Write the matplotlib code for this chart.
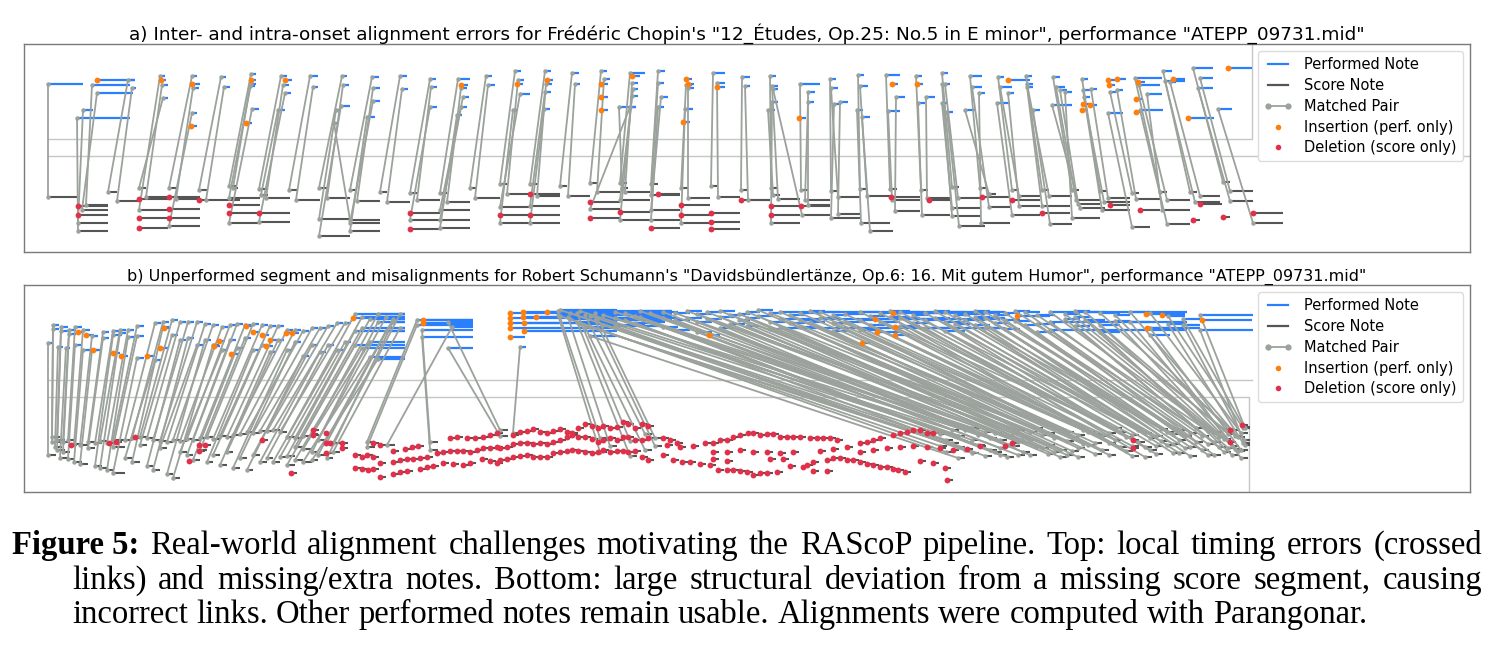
import matplotlib
matplotlib.use("Agg")
import matplotlib.pyplot as plt
from matplotlib.lines import Line2D
from matplotlib.legend_handler import HandlerLine2D
from matplotlib.collections import LineCollection

# ---------------------------------------------------------------- data
# x: onset/offset time (arbitrary time units), y: display pitch
# matched pairs: (perf_on, perf_off, perf_pitch, score_on, score_off, score_pitch)
a_pairs = [
    (4.8, 8.3, 88, 4.8, 7.8, 31.5),
    (9.2, 13.0, 87.5, 8.6, 10.8, 27.5), (9.7, 13.3, 83.5, 8.2, 10.8, 25), (8.3, 9.3, 75, 7.8, 10.8, 18.5),
    (7.7, 13.0, 71, 7.8, 10.8, 14.5), (12.8, 13.5, 90, 10.8, 11.7, 34), (13.2, 13.6, 86, 11.7, 13.9, 29.5),
    (16.0, 16.5, 92, 13.9, 16.8, 25), (16.2, 16.8, 87.5, 14.6, 16.8, 31.5), (16.3, 16.8, 81, 13.9, 14.6, 36),
    (19.2, 19.7, 92, 16.9, 17.8, 36), (19.3, 19.9, 86, 17.6, 20.0, 30.5), (19.2, 19.7, 73.5, 16.9, 20.0, 17),
    (22.1, 22.6, 91.5, 19.9, 20.8, 35), (22.4, 23.0, 86.5, 20.6, 24.0, 30),
    (25.1, 25.6, 93, 22.9, 23.6, 37), (25.1, 25.6, 88, 22.9, 26.0, 31), (25.2, 25.9, 75.5, 22.9, 26.0, 18.5),
    (25.0, 25.5, 87, 23.3, 23.8, 36),
    (28.1, 28.7, 92, 25.9, 26.8, 35.5), (28.3, 28.9, 87.5, 26.6, 29.0, 31), (28.5, 29.1, 83.5, 25.9, 29.0, 19),
    (27.8, 28.5, 75, 26.1, 26.8, 32.5),
    (31.0, 31.8, 92, 28.9, 29.8, 35), (31.3, 31.8, 86.5, 29.6, 32.0, 30),
    (34.2, 34.7, 92, 31.9, 32.8, 36), (34.3, 34.9, 87.5, 32.7, 35.0, 31), (33.6, 34.1, 75, 31.9, 35.0, 20.5),
    (33.4, 33.8, 68.5, 35.0, 38.0, 20), (34.1, 35.0, 77, 31.9, 35.0, 12),
    (37.2, 37.9, 91.5, 35.0, 35.7, 35), (37.3, 38.0, 86, 35.7, 38.0, 29.5), (37.3, 38.0, 79.5, 35.0, 38.0, 18.5),
    (36.7, 37.5, 71.5, 35.0, 38.0, 14.5),
    (40.0, 40.7, 92, 38.0, 38.7, 34), (40.2, 40.8, 85.5, 38.7, 41.0, 29),
    (43.0, 43.6, 90.5, 41.0, 41.7, 33.5), (43.1, 43.7, 86.5, 41.7, 44.0, 30), (43.0, 43.7, 76.5, 41.0, 44.0, 20),
    (45.8, 47.0, 90.5, 44.0, 44.7, 33.5), (46.1, 46.7, 86, 44.7, 47.0, 29), (46.3, 46.9, 81.5, 44.0, 47.0, 25),
    (46.1, 46.7, 76.5, 44.0, 47.0, 20), (45.7, 46.2, 72.5, 44.0, 47.0, 16),
    (48.6, 49.2, 92, 47.0, 47.7, 36), (48.8, 49.5, 87.5, 47.5, 50.0, 31),
    (51.5, 52.1, 94.5, 50.0, 50.7, 38), (51.8, 52.4, 90, 50.7, 53.0, 33), (52.0, 53.0, 83, 50.0, 53.0, 26.5),
    (51.3, 51.8, 75, 50.0, 53.0, 18.5),
    (54.5, 55.1, 94.5, 53.0, 53.7, 38), (54.6, 55.2, 88, 53.7, 56.0, 32), (54.5, 55.1, 84, 53.0, 56.0, 27),
    (54.4, 55.0, 75.5, 53.0, 56.0, 18.5),
    (57.2, 57.9, 93.5, 56.0, 56.7, 37), (57.5, 58.0, 88, 56.8, 59.0, 32),
    (60.1, 60.7, 94.5, 59.0, 59.7, 38.5), (60.4, 61.0, 90.5, 59.7, 62.0, 34), (63.0, 63.6, 76.5, 59.0, 62.0, 25.5),
    (63.0, 64.5, 93.5, 62.0, 62.7, 38.5), (63.2, 63.8, 88.5, 62.5, 65.0, 34), (63.3, 63.8, 85.5, 62.0, 65.0, 30),
    (63.2, 63.8, 82, 62.0, 65.0, 20), (61.9, 63.6, 76.5, 62.2, 62.8, 36),
    (65.8, 66.5, 94.5, 65.1, 65.8, 38), (65.8, 66.4, 88.5, 65.1, 68.0, 32.5), (66.1, 66.8, 81.5, 65.1, 68.0, 25),
    (65.8, 66.4, 76.5, 65.1, 68.0, 20),
    (68.6, 69.2, 87.5, 68.1, 68.8, 36), (68.8, 69.4, 86, 68.8, 71.0, 31), (68.5, 69.3, 75.5, 68.1, 71.0, 18.5),
    (71.3, 72.5, 93.5, 71.1, 71.8, 37), (71.7, 72.5, 88.5, 71.8, 74.0, 31.5),
    (74.2, 75.0, 91.5, 74.1, 74.8, 35), (74.5, 75.0, 87, 74.8, 77.0, 30),
    (77.0, 77.6, 92, 77.1, 77.8, 36), (77.2, 77.8, 87, 77.8, 80.0, 30.5), (77.2, 77.8, 79, 77.1, 80.0, 18.5),
    (76.8, 77.5, 75, 77.3, 78.0, 32.5), (77.3, 77.8, 85.5, 80.2, 83.0, 22.5),
    (80.0, 82.0, 88, 80.1, 80.8, 35), (80.8, 81.5, 84, 80.8, 83.0, 27.5), (80.8, 81.4, 79, 80.5, 83.0, 30),
    (83.0, 83.6, 90.5, 83.1, 83.8, 34.5), (83.1, 83.8, 86, 83.8, 86.0, 31.5), (83.4, 84.0, 78, 83.1, 86.0, 21),
    (84.0, 84.8, 79, 83.8, 86.0, 23),
    (85.8, 86.4, 92.5, 86.0, 86.7, 35.5), (86.0, 86.8, 87, 86.7, 89.0, 32), (85.7, 86.3, 75, 86.1, 89.0, 18.5),
    (86.2, 87.0, 71.5, 87.0, 89.3, 14.5),
    (88.6, 90.0, 92.5, 89.0, 89.7, 35.5), (89.6, 90.5, 81.5, 89.5, 92.0, 24.5), (88.8, 90.0, 74.5, 89.2, 92.0, 30),
    (91.6, 92.2, 92, 92.1, 92.8, 35), (92.6, 93.5, 81.5, 92.7, 95.0, 31), (91.8, 92.5, 78.5, 92.2, 95.0, 22.5),
    (94.2, 94.8, 93.5, 95.2, 95.9, 36.5), (94.5, 95.0, 88, 95.8, 98.0, 31), (94.2, 94.8, 78.5, 95.2, 98.0, 26),
    (94.7, 95.3, 74, 95.9, 98.5, 17), (94.2, 94.7, 88, 95.2, 98.0, 22),
    (97.0, 98.2, 92, 98.0, 98.7, 36), (97.2, 98.2, 86.5, 98.9, 101.0, 26.5), (97.9, 98.5, 83.5, 98.1, 101.0, 18.5),
    (96.5, 97.5, 75, 98.9, 99.6, 33),
    (99.8, 100.4, 91.5, 101.2, 101.9, 35), (100.0, 101.2, 86.5, 101.9, 104.0, 32), (100.8, 101.4, 83.5, 101.9, 104.0, 27),
    (99.7, 101.0, 78.5, 101.2, 104.0, 22.5),
    (102.6, 103.2, 92, 104.2, 104.9, 35), (102.7, 103.3, 88, 104.9, 107.2, 32), (102.7, 103.3, 86.5, 104.2, 107.0, 27),
    (103.3, 104.0, 75, 105.0, 107.2, 18),
    (105.3, 106.0, 91.5, 107.2, 107.9, 35), (105.6, 106.5, 86.5, 107.6, 110.0, 30), (106.5, 107.2, 84, 107.2, 110.0, 21),
    (105.2, 107.2, 77.5, 108.0, 110.5, 26), (106.0, 106.7, 85, 107.8, 110.0, 28),
    (108.2, 108.8, 90.5, 110.0, 110.7, 34.5), (108.3, 109.0, 85, 110.2, 113.0, 25), (109.1, 109.7, 85.5, 110.8, 113.0, 31),
    (108.4, 109.0, 81.5, 110.4, 113.0, 29),
    (111.0, 111.6, 84, 113.2, 113.9, 33.5), (111.7, 112.3, 85, 113.6, 116.0, 30.5), (110.8, 112.3, 73.5, 113.2, 115.0, 16.5),
    (113.5, 116.2, 91, 116.0, 116.7, 34), (113.9, 116.0, 87.5, 116.7, 119.0, 30), (114.7, 116.2, 83, 116.2, 119.0, 25),
    (114.0, 116.3, 75, 116.7, 119.0, 18),
    (116.3, 117.2, 94.5, 119.0, 119.7, 34), (116.5, 118.5, 89.5, 119.5, 122.0, 29), (117.0, 117.6, 89, 120.0, 122.0, 32),
    (119.3, 121.3, 96, 122.3, 123.0, 39), (120.0, 121.3, 91, 123.0, 125.3, 34.5), (119.8, 121.3, 86, 123.0, 125.3, 29.5),
    (121.8, 123.2, 75.5, 125.3, 128.3, 18.5),
]
# insertions (performed only): (on, off, pitch)
a_ins = [
    (9.7, 13.5, 90), (16.1, 16.6, 90), (19.2, 20.0, 88), (19.1, 19.7, 67), (25.1, 25.6, 90), (24.6, 25.2, 68.5),
    (28.5, 29.2, 90), (46.1, 46.8, 87.5), (51.7, 52.3, 88), (54.7, 55.3, 90), (60.1, 60.8, 88), (60.1, 60.8, 81.5),
    (60.1, 60.8, 75), (63.2, 64.0, 92), (68.6, 69.2, 90.5), (68.8, 69.4, 88), (68.3, 69.0, 69), (71.7, 72.5, 86.5),
    (79.9, 80.6, 71), (89.2, 89.8, 88), (91.7, 92.3, 88), (100.8, 103.0, 90), (108.3, 109.0, 78), (109.0, 109.7, 77.5),
    (108.2, 108.8, 75), (110.8, 111.5, 90), (111.7, 112.6, 90.5), (110.9, 111.5, 87.5), (113.8, 114.5, 89),
    (113.6, 114.2, 80.5), (113.6, 114.2, 74), (117.3, 118.5, 90.5), (118.8, 121.4, 71), (122.8, 125.2, 96),
]
# deletions (score only): (on, off, pitch)
a_del = [
    (7.8, 10.8, 27), (7.8, 10.8, 22.5), (13.9, 16.8, 30.5), (13.9, 16.8, 21), (13.9, 16.8, 16), (16.9, 20.0, 31.5),
    (16.9, 20.0, 25.5), (16.9, 20.0, 21), (19.9, 20.5, 30), (22.9, 26.0, 27.5), (22.9, 26.0, 23.5), (25.9, 29.0, 23.5),
    (41.0, 44.0, 23.5), (41.0, 44.0, 15.5), (50.0, 53.0, 22.5), (53.0, 56.0, 33), (53.0, 56.0, 22.5), (59.0, 62.0, 29),
    (59.0, 62.0, 21), (62.0, 65.0, 24), (65.8, 68.0, 33), (65.1, 68.0, 16), (68.1, 71.0, 27.5), (68.1, 71.0, 22.5),
    (71.1, 74.0, 23.5), (71.1, 74.0, 19), (71.1, 74.0, 15.5), (74.1, 77.0, 30), (77.1, 80.0, 27), (77.1, 80.0, 22.5),
    (80.1, 83.0, 27), (89.1, 92.0, 31.5), (92.9, 95.0, 30), (98.2, 101.0, 31.5), (101.2, 104.0, 30),
    (104.2, 107.0, 23.5), (111.0, 113.0, 27.5), (114.0, 116.0, 25), (120.0, 122.2, 28), (119.3, 120.0, 20),
    (122.3, 123.0, 21.5), (125.3, 128.3, 23.5),
]

# panel b: matched chords (perf_on, perf_off, perf_pitches, score_on, score_off, score_pitches)
b_chords = [
    (4.8, 5.2, [78.5], 4.8, 5.6, [22.5]), (5.3, 5.9, [87.5, 85.5], 5.2, 6.0, [31.5, 29]),
    (5.8, 6.3, [76.5], 5.5, 6.2, [26.5]), (6.1, 6.8, [86.5, 84.5], 5.7, 6.5, [30, 25]),
    (6.6, 7.0, [76], 6.0, 6.8, [21]), (6.9, 7.6, [85, 83], 6.3, 7.0, [29, 24]),
    (7.5, 8.2, [86.5, 77.5], 6.8, 7.5, [30, 20.5]), (8.3, 9.0, [75, 85], 7.4, 8.2, [19, 28]),
    (9.2, 9.8, [75, 82], 8.0, 8.8, [18, 27.5]), (10.3, 10.9, [84, 81], 8.8, 9.5, [29, 26]),
    (11.3, 12.2, [84.5, 82.5], 9.5, 10.2, [28.5, 17]), (12.0, 12.6, [85, 83.5], 10.0, 10.7, [29.5, 16]),
    (12.8, 13.4, [85, 81.5], 10.7, 11.3, [28.5, 15]), (13.7, 14.4, [87, 82, 71], 11.3, 12.5, [30, 26.5, 13.5]),
    (15.5, 16.1, [88.5, 70], 12.5, 13.2, [30, 21]), (16.3, 16.9, [89, 86.5], 13.2, 14.0, [31, 19]),
    (17.2, 17.8, [90, 82.5], 14.0, 14.7, [31.5, 27.5]), (18.0, 18.6, [89, 80], 14.7, 15.3, [31, 17]),
    (18.8, 19.4, [89, 81], 15.3, 16.0, [30, 15]), (19.7, 20.3, [89, 77.5], 16.0, 16.7, [29.5, 26]),
    (20.5, 21.1, [88, 80], 16.7, 17.3, [29, 13]), (21.3, 21.9, [87.5, 77.5], 17.3, 18.0, [30, 11]),
    (22.2, 22.8, [86.5, 75], 18.0, 18.7, [29.5, 24]), (23.0, 23.6, [87.5, 80], 18.7, 19.3, [30.5, 22.5]),
    (23.7, 24.3, [88, 76], 19.3, 20.0, [30, 20]), (24.5, 25.1, [87.5, 81], 20.0, 20.7, [31, 25]),
    (25.3, 25.9, [88, 75], 20.7, 21.3, [31.5, 19]), (26.2, 26.8, [87.5, 77.5], 21.3, 22.0, [30.5, 22.5]),
    (27.0, 27.6, [87, 74], 22.0, 22.7, [32, 17.5]), (27.8, 28.4, [87, 80], 22.7, 23.3, [31.5, 24]),
    (28.7, 29.3, [85, 75], 23.3, 24.0, [32.5, 16]), (29.5, 30.1, [85, 79], 24.0, 24.7, [33, 21]),
    (30.3, 30.9, [84.5, 72], 24.7, 25.3, [34, 15]), (31.2, 31.8, [86, 77.5], 25.3, 26.0, [33.5, 22.5]),
    (32.0, 32.6, [86, 74], 26.0, 26.7, [34.5, 19]), (32.8, 33.4, [87, 77.5], 26.7, 27.3, [34.5, 21]),
    (33.7, 34.3, [88.5, 75], 27.3, 28.0, [35, 19]), (34.5, 35.1, [88.5, 79], 28.0, 28.7, [34, 21.5]),
    (35.5, 40.5, [93, 84.5, 77.5], 28.7, 29.5, [31.5, 22, 17.5]), (36.2, 40.5, [91.5, 86, 76], 29.5, 30.3, [31, 26.5, 20]),
    (37.0, 40.5, [90.5, 79, 71.5], 30.3, 31.2, [32, 25.5, 19]), (37.8, 40.5, [93, 89, 70.5], 31.2, 31.8, [33, 24, 20]),
    (38.6, 40.5, [91.5, 84.5], 31.8, 32.7, [30, 22.5]), (39.3, 40.5, [90.5, 89], 32.7, 33.3, [29, 21]),
    (40.0, 40.5, [93, 86], 33.3, 34.0, [28.5, 24]),
    (41.7, 47.3, [90, 87.5], 36.7, 37.5, [29, 26.5]), (42.2, 47.3, [85, 81.5], 43.0, 43.8, [29, 25]),
    (44.8, 47.3, [89, 76], 50.0, 50.8, [35, 32]), (45.2, 47.3, [86.5], 38.7, 39.5, [27.5]),
    (52.0, 52.6, [76.5], 51.3, 52.0, [33.5]), (55.8, 67.2, [94.5, 92.5], 60.0, 60.7, [31, 24]),
    (56.8, 61.7, [91.5], 61.0, 61.7, [27]), (57.7, 61.7, [93.5, 89], 63.0, 63.7, [29.5, 22]),
    (58.5, 61.7, [92.5, 86.5], 64.5, 65.2, [33, 25]), (59.5, 67.2, [93.5, 90], 65.5, 66.2, [31, 27]),
    # links from the performed segment to the far (wrong) end of the score
    (56.0, 61.7, [95, 92], 94.0, 94.7, [33, 27]), (57.0, 61.7, [93.5, 90.5], 94.6, 95.3, [30, 24]),
    (58.0, 61.7, [94.5, 88], 95.2, 95.9, [35, 28.5]), (59.0, 61.7, [92, 86.5, 82], 95.8, 96.5, [32, 26.5, 21]),
    (60.3, 64.5, [92.5, 87.5], 96.5, 97.2, [35, 25]), (61.5, 66.0, [94, 91, 87], 97.2, 97.9, [36, 30, 23.5]),
    (62.5, 64.0, [93.5, 90], 97.8, 98.5, [32.5, 27.5]), (63.5, 65.0, [92, 88.5], 98.5, 99.2, [34, 22]),
    (64.0, 67.2, [94.5, 91.5], 99.0, 99.7, [31, 25]), (65.0, 66.5, [93.5, 89], 99.5, 100.2, [33.5, 24]),
    (66.3, 67.8, [94, 91, 86.5], 100.0, 100.7, [30, 26, 22.5]), (67.5, 69.0, [93.5, 90, 85], 100.7, 101.4, [32, 27.5, 21.5]),
    (68.7, 70.2, [94.5, 91], 101.3, 102.0, [33.5, 27]), (69.7, 71.2, [93, 89, 84], 101.8, 102.5, [35, 29, 22.5]),
    (70.7, 72.2, [94, 90.5], 102.3, 103.0, [31.5, 24]), (72.0, 73.5, [94.5, 91.5, 86], 103.0, 103.7, [34, 30, 22.5]),
    (73.0, 74.5, [92.5, 88], 103.6, 104.3, [36, 26.5]), (73.9, 75.0, [93, 90], 104.2, 104.9, [32.5, 26]),
    (74.7, 76.0, [94, 91, 87], 104.8, 105.5, [33.5, 27.5, 23]), (75.8, 77.3, [95, 92], 105.4, 106.1, [31, 24]),
    (77.0, 78.5, [93.5, 89, 85.5], 106.0, 106.7, [35, 25, 21.5]), (78.0, 100.0, [94, 90.5, 86], 106.7, 107.4, [34, 29.5, 22.5]),
    (79.0, 80.5, [92.5, 88.5], 107.2, 107.9, [31.5, 24.5]), (80.0, 82.0, [93.5, 90, 86.5], 107.8, 108.5, [32.5, 26, 21.5]),
    (81.0, 82.5, [94.5, 89], 108.3, 109.0, [35, 28]), (82.0, 84.0, [94, 91], 108.8, 109.5, [34, 27.5]),
    (83.3, 85.0, [92.5, 88.5, 84.5], 109.5, 110.2, [33, 28.5, 23]), (84.5, 86.5, [93, 89], 110.2, 110.9, [32, 25]),
    (86.0, 88.0, [94, 90, 85], 110.9, 111.6, [33.5, 28.5, 22.5]), (87.0, 88.5, [92, 87.5], 111.5, 112.2, [36, 30]),
    (88.0, 90.0, [93.5, 89], 112.0, 112.7, [34, 26.5]), (89.0, 91.0, [94.5, 91.5], 112.6, 113.3, [31.5, 24.5]),
    (90.0, 92.0, [94, 91, 87], 113.2, 113.9, [32.5, 27, 22]), (91.3, 93.0, [92.5, 88.5], 113.8, 114.5, [35, 29]),
    (92.5, 94.5, [93.5, 90, 86], 114.5, 115.2, [33.5, 26.5, 21.5]), (93.5, 95.0, [94.5, 91], 115.0, 115.7, [31, 25]),
    (94.5, 96.5, [94, 89, 84.5], 115.6, 116.3, [32, 27, 23]), (95.5, 97.0, [92.5, 88], 116.1, 116.8, [35.5, 29.5]),
    (96.5, 98.5, [93, 90], 116.7, 117.4, [34, 27.5]), (97.5, 99.0, [94.5, 91.5, 87.5], 117.3, 118.0, [33, 28, 23.5]),
    (98.5, 100.5, [94, 91, 86], 117.9, 118.6, [35, 30, 23.5]), (99.5, 101.0, [92.5, 88.5], 118.5, 119.2, [32, 26]),
    (100.5, 102.0, [93.5, 90, 85.5], 119.0, 119.7, [33.5, 26.5, 22]), (101.5, 103.0, [94.5, 89.5], 119.6, 120.3, [36, 29]),
    (102.5, 104.0, [94, 87.5], 120.2, 120.9, [32, 25]), (103.7, 105.5, [92.5, 88, 84], 120.8, 121.5, [34.5, 28, 22.5]),
    (105.0, 118.7, [94, 89, 85], 121.4, 122.1, [34, 29, 22.5]), (106.5, 108.0, [93, 90.5], 121.9, 122.6, [31.5, 26.5]),
    (107.5, 109.0, [94.5, 91.5, 87], 122.4, 123.1, [35.5, 30.5, 24]), (108.5, 110.5, [94, 90], 122.8, 123.5, [33, 26]),
    (110.0, 112.0, [93.5, 87.5, 84], 123.2, 123.9, [35, 27, 22.5]), (111.5, 113.0, [92.5, 89.5], 123.5, 124.2, [32, 25.5]),
    (113.0, 115.0, [94, 89], 123.8, 124.5, [31.5, 24.5]), (115.0, 117.0, [93.5, 86, 82.5], 124.1, 124.8, [33.5, 25, 21]),
    (116.8, 118.5, [92, 88], 124.3, 125.0, [36, 28.5]), (118.3, 120.0, [90.5, 87.5], 124.4, 125.0, [36.5, 30]),
    (120.0, 125.3, [92.5, 85], 124.5, 125.0, [36, 27.5]),
]
b_ins = [
    (7.8, 8.4, 84), (8.6, 9.4, 82.5), (9.3, 10.0, 75), (11.3, 12.0, 73.5), (12.1, 12.8, 72), (14.7, 15.5, 72),
    (16.0, 16.8, 76), (16.4, 17.0, 86), (21.4, 22.0, 77), (21.9, 22.5, 79.5), (23.1, 23.8, 73), (24.6, 25.2, 87),
    (25.3, 26.0, 84), (26.2, 26.9, 82.5), (26.6, 27.3, 77), (27.0, 27.7, 80), (28.6, 29.3, 83.5), (29.2, 29.9, 83.5),
    (35.3, 40.5, 91), (42.3, 47.3, 90), (42.3, 47.3, 88.5),
    (51.0, 61.7, 93.5), (51.0, 61.7, 91), (51.0, 61.7, 88.5), (51.0, 61.7, 86), (51.0, 52.5, 81.5),
    (52.3, 67.2, 94), (52.3, 61.7, 91.5), (52.4, 61.7, 88.5), (52.4, 61.7, 84.5), (53.6, 61.7, 91.5), (54.7, 61.7, 94),
    (70.9, 72.0, 82.5), (86.2, 87.0, 78.5), (87.5, 95.0, 90.5), (87.7, 90.0, 84), (89.3, 100.0, 93.5),
    (89.5, 92.0, 86.5), (89.5, 91.0, 82.5), (101.7, 105.0, 92), (114.6, 118.5, 93), (116.2, 118.5, 92.5),
    (114.7, 120.0, 86), (120.2, 125.2, 90),
]
# deletions in panel b: (onset, pitch); every deleted note has the same short value
b_del_len = 0.6
b_del = [
    (7.1, 27.5), (10.9, 28.5), (11.6, 29), (13.5, 31.5), (19.9, 27.5), (20.5, 27.5), (19.9, 24.5), (18.9, 19.5),
    (26.2, 30), (29.1, 13.5), (33.0, 28.5), (32.6, 23.5),
    (31.3, 35), (31.3, 32.5), (32.6, 33.5), (37.3, 28.5), (38.0, 27.5), (39.3, 24.5), (40.5, 25.5), (41.2, 26.5),
    (41.8, 27), (45.0, 31), (45.7, 31.5), (46.7, 31), (47.5, 31), (48.3, 31.5), (49.0, 32.5), (49.7, 33.5),
    (51.3, 32.5), (52.0, 34), (52.7, 34.5), (53.3, 35.5), (54.0, 34), (54.7, 33.5), (55.3, 34.5), (56.0, 35.5),
    (56.7, 34), (57.2, 33.5), (57.8, 36), (58.5, 38), (59.2, 37), (59.8, 36), (60.3, 37), (61.0, 36), (61.7, 36.5),
    (62.3, 39), (62.8, 38), (63.5, 36), (64.2, 38), (64.8, 37),
    (66.3, 31), (67.0, 30), (67.7, 28.5), (70.5, 28.5), (71.3, 28.5), (72.0, 30), (72.7, 30), (73.3, 31.5),
    (74.0, 32.5), (74.8, 33.5), (75.3, 33.5), (76.0, 32.5), (76.7, 33), (77.3, 33), (78.0, 31.5), (78.7, 31.5),
    (79.3, 31.5), (80.0, 31.5), (81.0, 31), (81.7, 31), (82.3, 31), (83.0, 31), (83.7, 30), (86.0, 28.5), (86.7, 29),
    (87.3, 30), (88.0, 31), (89.3, 32.5), (90.0, 33.5), (90.7, 34), (91.3, 35), (92.0, 35), (92.7, 33.5), (93.3, 33.5),
    (32.6, 28.5), (34.2, 28.5), (34.2, 26), (50.0, 26), (50.7, 26.5), (51.3, 28), (52.0, 28.5), (52.7, 28.5),
    (53.3, 28), (54.0, 28.5), (54.7, 28), (55.3, 29), (56.0, 30), (56.7, 31.5), (57.2, 32.5), (57.8, 31.5),
    (58.5, 31.5), (59.2, 30.5), (59.8, 29), (60.3, 30), (61.0, 31), (61.7, 30), (62.3, 31.5), (62.8, 31.5),
    (63.5, 30), (64.2, 30), (64.8, 31),
    (35.5, 22.5), (36.2, 21.5), (36.7, 22.5), (37.3, 21.5), (38.0, 18.5), (39.3, 19), (40.0, 20), (40.7, 20.5),
    (41.3, 20.5), (42.0, 21), (42.7, 21.5), (43.7, 23.5), (44.3, 24), (45.0, 24.5), (45.7, 24.5), (46.3, 24.5),
    (47.0, 24), (47.7, 25), (48.3, 26), (49.0, 26), (49.7, 26.5), (50.0, 20), (50.7, 20.5), (51.3, 21.5), (52.0, 22),
    (52.7, 22.5), (53.3, 21.5), (54.0, 21.5), (54.7, 21.5), (55.3, 23.5), (56.0, 24), (56.7, 24.5), (57.2, 25),
    (57.8, 24.5), (58.5, 24), (59.2, 23.5), (59.8, 24), (60.3, 25), (61.0, 24), (61.7, 24.5), (62.3, 24.5),
    (62.8, 24), (63.5, 24.5), (64.2, 21.5), (64.8, 20),
    (35.5, 16), (36.2, 15.5), (36.8, 15), (37.3, 15.5), (38.0, 11.5), (39.3, 13), (40.0, 14), (40.7, 14.5),
    (42.0, 15.5), (42.7, 16.5), (43.3, 17), (44.3, 18.5), (45.3, 18), (46.3, 17.5), (47.0, 18.5), (48.2, 20.5),
    (49.0, 19.5), (49.7, 18.5), (66.3, 22.5), (67.3, 20), (68.2, 19), (69.0, 19), (70.0, 18), (71.0, 17.5),
    (71.8, 15), (72.7, 15), (73.3, 15), (74.0, 14.5), (74.7, 14), (75.3, 12.5), (76.0, 13.5), (76.7, 13.5),
    (77.7, 14), (80.7, 17.5), (81.3, 19), (82.7, 20), (83.3, 21), (84.0, 21), (84.7, 20), (85.3, 20), (86.0, 19),
    (86.7, 18), (87.3, 17.5), (88.0, 16.5), (88.7, 16.5), (89.3, 15.5), (89.8, 15), (90.5, 14),
    (66.7, 27.5), (68.0, 26.5), (69.3, 27), (71.3, 24), (72.7, 24), (74.0, 25), (75.3, 24), (76.7, 24), (78.0, 23.5),
    (79.3, 24), (82.0, 24.5), (83.3, 25.5), (84.7, 26.5), (86.0, 24), (87.3, 25), (88.7, 26), (90.0, 26.5),
    (91.3, 27), (92.7, 26.5), (94.0, 26), (95.3, 25), (96.7, 25.5), (98.0, 27),
    (77.0, 20.5), (78.3, 20.5), (79.0, 17), (80.3, 16.5), (94.7, 10), (71.3, 20.5), (72.7, 19.5), (81.3, 14.5),
    (82.7, 14.5), (92.0, 19.5), (93.3, 18.5), (94.5, 16),
    (113.3, 30), (113.3, 26), (123.0, 35), (123.0, 29), (124.2, 37.5), (100.5, 27), (101.2, 28.5),
]

titles = [
    'a) Inter- and intra-onset alignment errors for Frédéric Chopin\'s "12_Études, Op.25: No.5 in E minor", '
    'performance "ATEPP_09731.mid"',
    'b) Unperformed segment and misalignments for Robert Schumann\'s "Davidsbündlertänze, Op.6: 16. Mit gutem '
    'Humor", performance "ATEPP_09731.mid"',
]
legend_labels = ["Performed Note", "Score Note", "Matched Pair", "Insertion (perf. only)", "Deletion (score only)"]
caption_lines = [
    ("Figure 5:", "Real-world alignment challenges motivating the RAScoP pipeline.  Top: local timing errors (crossed"),
    ("", "links) and missing/extra notes.  Bottom: large structural deviation from a missing score segment, causing"),
    ("", "incorrect links. Other performed notes remain usable. Alignments were computed with Parangonar."),
]

# ---------------------------------------------------------------- style
PERF_C = "#2a7fff"
SCORE_C = "#555555"
LINK_C = "#9ba19b"
INS_C = "#ff7f0e"
DEL_C = "#e0304a"
GUIDE_C = "#c6c6c6"
FRAME_C = "#7a7a7a"
SERIF = ["Liberation Serif", "DejaVu Serif"]

W, H = 1494, 650
fig = plt.figure(figsize=(W / 100, H / 100), dpi=100)
renderer = fig.canvas.get_renderer()


def draw_panel(ax, pairs, ins, dels):
    score_segs = [[(so, sy), (sf, sy)] for (po, pf, py, so, sf, sy) in pairs]
    score_segs += [[(o, y), (f, y)] for (o, f, y) in dels]
    perf_segs = [[(po, py), (pf, py)] for (po, pf, py, so, sf, sy) in pairs]
    perf_segs += [[(o, y), (f, y)] for (o, f, y) in ins]
    links = [[(so, sy), (po, py)] for (po, pf, py, so, sf, sy) in pairs]
    ax.add_collection(LineCollection(score_segs, colors=SCORE_C, linewidths=1.5, zorder=2))
    ax.add_collection(LineCollection(perf_segs, colors=PERF_C, linewidths=1.6, zorder=2))
    ax.add_collection(LineCollection(links, colors=LINK_C, linewidths=1.3, zorder=3))
    px = [p[0] for p in pairs] + [p[3] for p in pairs]
    py_ = [p[2] for p in pairs] + [p[5] for p in pairs]
    ax.plot(px, py_, "o", color=LINK_C, ms=3.2, mew=0, zorder=4)
    ax.plot([i[0] for i in ins], [i[2] for i in ins], "o", color=INS_C, ms=4.2, mew=0, zorder=5)
    ax.plot([d[0] for d in dels], [d[2] for d in dels], "o", color=DEL_C, ms=4.2, mew=0, zorder=5)


def style_axes(ax, title, ylim):
    ax.set_xlim(2.4, 147.0)
    ax.set_ylim(*ylim)
    ax.set_xticks([])
    ax.set_yticks([])
    for s in ax.spines.values():
        s.set_color(FRAME_C)
        s.set_linewidth(1.0)
    t = ax.set_title(title, fontsize=12, pad=3)
    w = t.get_window_extent(renderer).width
    t.set_fontsize(12 * 1231 / w)
    h_perf = Line2D([], [], color=PERF_C, lw=1.6)
    h_score = Line2D([], [], color=SCORE_C, lw=1.6)
    h_pair = Line2D([], [], color=LINK_C, lw=1.3, marker="o", ms=4.5, mew=0)
    h_ins = Line2D([], [], ls="none", marker="o", color=INS_C, ms=4, mew=0)
    h_del = Line2D([], [], ls="none", marker="o", color=DEL_C, ms=4, mew=0)
    leg = ax.legend([h_perf, h_score, h_pair, h_ins, h_del], legend_labels, loc="upper right",
                    fontsize=10.5, numpoints=2, labelspacing=0.4, framealpha=1, edgecolor="#dcdcdc",
                    handler_map={h_ins: HandlerLine2D(numpoints=1), h_del: HandlerLine2D(numpoints=1)})
    leg.set_zorder(10)


# panel a
ax_a = fig.add_axes([24 / W, 1 - 252 / H, 1446 / W, 208 / H])
ax_a.plot([4.8, 125.2, 125.2], [60.5, 60.5, 108], color=GUIDE_C, lw=1.0, zorder=1)
ax_a.plot([4.8, 147.0], [52, 52], color=GUIDE_C, lw=1.0, zorder=1)
draw_panel(ax_a, a_pairs, a_ins, a_del)
style_axes(ax_a, titles[0], (4, 108))

# panel b
b_pairs = []
for (po, pf, pys, so, sf, sys_) in b_chords:
    for py, sy in zip(pys, sys_):
        b_pairs.append((po, pf, py, so, sf, sy))
b_dels = [(o, o + b_del_len, y) for (o, y) in b_del]
ax_b = fig.add_axes([24 / W, 1 - 492 / H, 1446 / W, 207 / H])
ax_b.plot([4.8, 125.2], [60, 60], color=GUIDE_C, lw=1.0, zorder=1)
ax_b.plot([4.8, 124.9, 124.9], [51.5, 51.5, 4], color=GUIDE_C, lw=1.0, zorder=1)
draw_panel(ax_b, b_pairs, b_ins, b_dels)
style_axes(ax_b, titles[1], (4, 107.5))

# caption
FS = 20
probe = fig.text(0, 0, caption_lines[2][1], fontsize=FS, family=SERIF)
FS = FS * 1293 / probe.get_window_extent(renderer).width
probe.remove()


def put_words(words, x0, x1, ybase, justify):
    items = []
    for txt, wt in words:
        t = fig.text(0, 1 - ybase / H, txt, fontsize=FS, family=SERIF, weight=wt, va="baseline", ha="left")
        items.append((t, t.get_window_extent(renderer).width))
    total = sum(w for _, w in items)
    if justify and len(items) > 1:
        gap = (x1 - x0 - total) / (len(items) - 1)
    else:
        sp = fig.text(0, 0, "a a", fontsize=FS, family=SERIF)
        sa = fig.text(0, 0, "aa", fontsize=FS, family=SERIF)
        gap = sp.get_window_extent(renderer).width - sa.get_window_extent(renderer).width
        sp.remove()
        sa.remove()
    x = x0
    for t, w in items:
        t.set_x(x / W)
        x += w + gap


baselines = [554, 589, 623]
for i, (bold, rest) in enumerate(caption_lines):
    words = []
    if bold:
        words.append((bold, "bold"))
    words += [(w, "normal") for w in rest.split()]
    x0 = 12 if i == 0 else 72
    put_words(words, x0, 1482, baselines[i], justify=(i < 2))

fig.savefig("out.png", dpi=100)
